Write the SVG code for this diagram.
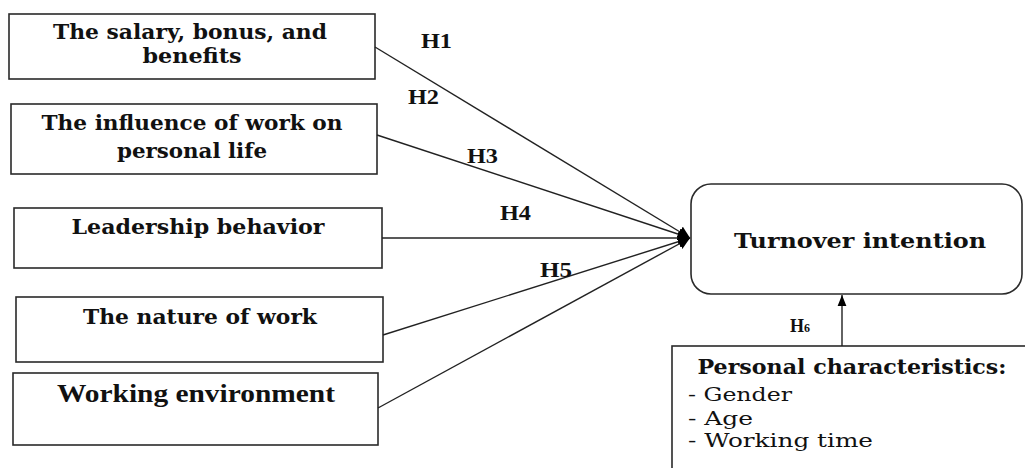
<svg xmlns="http://www.w3.org/2000/svg" width="1025" height="468" viewBox="0 0 1025 468">
<style>
.box{fill:#fff;stroke:#2a2a2a;stroke-width:1.6}
.cb{font-family:"DejaVu Serif","Liberation Serif",serif;font-weight:bold;font-size:21px;fill:#111;text-anchor:middle}
.cr{font-family:"DejaVu Serif","Liberation Serif",serif;font-size:19px;fill:#111}
.tb{font-family:"Liberation Serif","Times New Roman",serif;font-weight:bold;fill:#111}
.con{stroke:#222;stroke-width:1.4;fill:none}
</style>
<defs>
<marker id="ah" viewBox="0 0 10 10" refX="10" refY="5" markerWidth="12" markerHeight="12" markerUnits="userSpaceOnUse" orient="auto">
<path d="M0,0 L10,5 L0,10 z" fill="#000"/>
</marker>
<marker id="ah2" viewBox="0 0 10 10" refX="10" refY="5" markerWidth="11" markerHeight="11" markerUnits="userSpaceOnUse" orient="auto">
<path d="M0,1 L10,5 L0,9 z" fill="#000"/>
</marker>
</defs>
<g id="n1">
<rect class="box" x="9" y="14" width="366" height="65"/>
<text class="cb" x="190" y="39" textLength="274" lengthAdjust="spacingAndGlyphs">The salary, bonus, and</text>
<text class="cb" x="192" y="63" textLength="99" lengthAdjust="spacingAndGlyphs">benefits</text>
</g>
<g id="n2">
<rect class="box" x="11" y="104" width="366" height="70"/>
<text class="cb" x="192" y="130" textLength="301" lengthAdjust="spacingAndGlyphs">The influence of work on</text>
<text class="cb" x="192" y="158" textLength="150" lengthAdjust="spacingAndGlyphs">personal life</text>
</g>
<g id="n3">
<rect class="box" x="14" y="208" width="368" height="60"/>
<text class="cb" x="198" y="234" textLength="253" lengthAdjust="spacingAndGlyphs">Leadership behavior</text>
</g>
<g id="n4">
<rect class="box" x="16" y="297" width="367" height="65"/>
<text class="cb" x="200" y="324" textLength="234" lengthAdjust="spacingAndGlyphs">The nature of work</text>
</g>
<g id="n5">
<rect class="box" x="13" y="373" width="365" height="72"/>
<text class="tb" x="196" y="402" font-size="26" text-anchor="middle" textLength="278" lengthAdjust="spacingAndGlyphs">Working environment</text>
</g>
<g id="target">
<rect class="box" x="691" y="184" width="331" height="110" rx="20" ry="20"/>
<text class="cb" x="860" y="248" font-size="22" textLength="252" lengthAdjust="spacingAndGlyphs">Turnover intention</text>
</g>
<g id="personal">
<rect class="box" x="672" y="346" width="400" height="160"/>
<text class="cb" x="852" y="374" font-size="20" textLength="309" lengthAdjust="spacingAndGlyphs">Personal characteristics:</text>
<text class="cr" x="688" y="401" textLength="104" lengthAdjust="spacingAndGlyphs">- Gender</text>
<text class="cr" x="688" y="425" textLength="65" lengthAdjust="spacingAndGlyphs">- Age</text>
<text class="cr" x="688" y="447" textLength="185" lengthAdjust="spacingAndGlyphs">- Working time</text>
</g>
<g id="connectors">
<line class="con" x1="375" y1="47" x2="690" y2="238" marker-end="url(#ah)"/>
<line class="con" x1="377" y1="135" x2="690" y2="238" marker-end="url(#ah)"/>
<line class="con" x1="382" y1="238" x2="690" y2="238" marker-end="url(#ah)"/>
<line class="con" x1="383" y1="335" x2="690" y2="238" marker-end="url(#ah)"/>
<line class="con" x1="378" y1="408" x2="690" y2="238" marker-end="url(#ah)"/>
<line class="con" x1="842" y1="346" x2="842" y2="295" marker-end="url(#ah2)"/>
<text class="tb" x="421" y="48" font-size="21" textLength="31" lengthAdjust="spacingAndGlyphs">H1</text>
<text class="tb" x="408" y="104" font-size="21" textLength="31" lengthAdjust="spacingAndGlyphs">H2</text>
<text class="tb" x="467" y="163" font-size="21" textLength="31" lengthAdjust="spacingAndGlyphs">H3</text>
<text class="tb" x="500" y="220" font-size="21" textLength="31" lengthAdjust="spacingAndGlyphs">H4</text>
<text class="tb" x="540" y="277" font-size="21" textLength="32" lengthAdjust="spacingAndGlyphs">H5</text>
<text class="tb" x="790" y="332" font-size="18">H<tspan font-size="12">6</tspan></text>
</g>
</svg>
